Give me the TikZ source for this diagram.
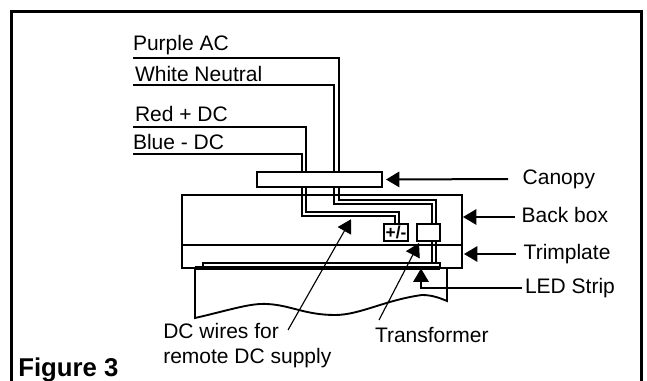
\documentclass[tikz,border=0pt]{standalone}
\usepackage{fontspec}
\setmainfont{Liberation Sans}
\usetikzlibrary{arrows.meta}

\tikzset{
    label/.style={inner sep=0pt, outer sep=0pt, align=left, font=\fontsize{15.75}{18.75}\selectfont},
    sidelabel/.style={label, anchor=west, text height=12pt, text depth=3pt},
    wirelabel/.style={label, anchor=base west},
    wire/.style={line width=1.3pt},
    box/.style={draw, fill=white, line width=1.4pt, inner sep=0pt, outer sep=0pt},
    pointer/.style={line width=1.5pt, -{Triangle[length=10pt,width=11.5pt]}},
    thinpointer/.style={line width=.85pt, -{Triangle[length=10pt,width=11.5pt]}}
}

\begin{document}
\begin{tikzpicture}[x=.75pt,y=-.75pt]
    \useasboundingbox (0,0) rectangle (647,381);

    % frame, open at the bottom
    \draw[line width=2.25pt] (11.5,381) -- (11.5,11.5) -- (641.5,11.5) -- (641.5,381);

    % back box and trimplate
    \draw[line width=1.4pt] (195,268) -- (182,268) -- (182,195) -- (462,195) -- (462,268) -- (440,268);
    \draw[line width=1.8pt] (182,245) -- (462,245);

    % ceiling below the box
    \draw[line width=1.4pt] (195,268) -- (195,318)
        .. controls (230,310) and (250,303) .. (267,304)
        .. controls (290,305) and (305,315) .. (335,315)
        .. controls (360,315) and (385,300) .. (422,295)
        .. controls (432,295) and (440,298) .. (447,301) -- (447,268);

    % LED strip
    \draw[line width=1.4pt] (203,268) -- (203,263) -- (440,263) -- (440,268);
    \draw[line width=2.4pt] (195,268) -- (440,268);

    % boxes
    \node[box, minimum width=18pt, minimum height=12.75pt] (powerbox) at (396,232.5)
        {\fontsize{13}{13}\selectfont\bfseries +/-};

    % wires
    \draw[wire] (133,58) -- (339,58) -- (339,200) -- (436,200) -- (436,263);
    \draw[wire] (133,85) -- (334,85) -- (334,204) -- (432,204) -- (432,263);
    \draw[wire] (133,127) -- (306,127) -- (306,212) -- (399,212) -- (399,224);
    \draw[wire] (133,154) -- (302,154) -- (302,216) -- (395,216) -- (395,224);

    \node[box, minimum width=93.75pt, minimum height=11.25pt] (canopy) at (319.5,179.5) {};
    \node[box, minimum width=17.25pt, minimum height=12.75pt] (transformer) at (428.5,232.5) {};

    % wire labels
    \node[wirelabel] (purple) at (133,50.7) {Purple AC};
    \node[wirelabel] (white) at (135,81.7) {White Neutral};
    \node[wirelabel] (red) at (135,121.7) {Red + DC};
    \node[wirelabel] (blue) at (133,149.3) {Blue - DC};

    % part labels
    \node[sidelabel] (canopylabel) at (522.7,179) {Canopy};
    \node[sidelabel] (backboxlabel) at (521.7,217) {Back box};
    \node[sidelabel] (trimplatelabel) at (523.7,254) {Trimplate};
    \node[sidelabel] (ledlabel) at (525,288) {LED Strip};
    \node[wirelabel] (dclabel) at (163.3,363.3) {DC wires for\\remote DC supply};
    \node[wirelabel] (transformerlabel) at (375,342.7) {Transformer};
    \node[label, anchor=base west, font=\fontsize{19.3}{22}\selectfont\bfseries] (figurelabel) at (18.3,376.7) {Figure 3};

    % arrow ends
    \coordinate (backboxtip) at (463,217);
    \coordinate (trimplatetip) at (464,254);
    \coordinate (ledtip) at (421,268.5);
    \coordinate (ledbend) at (421,288);
    \coordinate (dctail) at (288,330);
    \coordinate (dctip) at (351,219.3);
    \coordinate (transformertail) at (379,320);
    \coordinate (transformertip) at (419,243);

    \draw[pointer, shorten <=11pt, shorten >=3pt] (canopylabel.west) -- (canopy.east);
    \draw[pointer, shorten <=5pt] (backboxlabel.west) -- (backboxtip);
    \draw[pointer, shorten <=5.8pt] (trimplatelabel.west) -- (trimplatetip);
    \draw[pointer, shorten <=2.5pt] (ledlabel.west) -- (ledbend) -- (ledtip);
    \draw[thinpointer] (dctail) -- (dctip);
    \draw[thinpointer] (transformertail) -- (transformertip);

\end{tikzpicture}
\end{document}
